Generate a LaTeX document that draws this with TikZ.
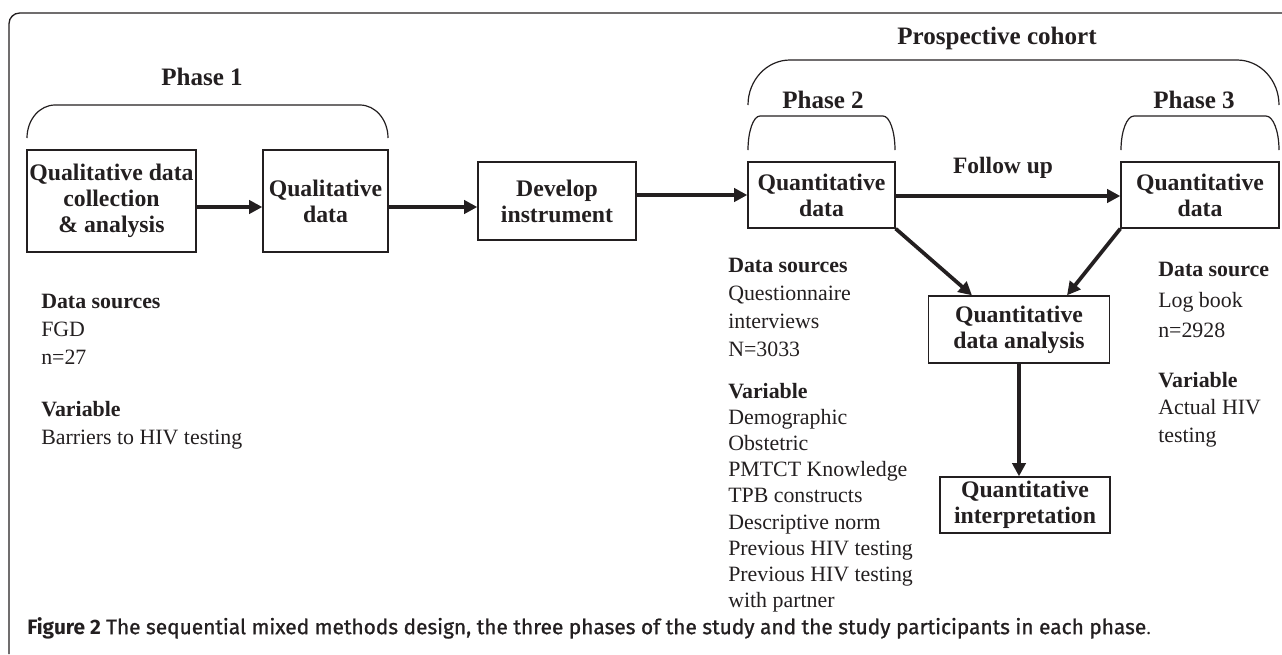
\documentclass[tikz,border=0pt]{standalone}
\usepackage{fontspec}
\setmainfont{Liberation Serif}
\newfontfamily\capfont[FakeBold=1.0]{Fira Sans}
\newfontfamily\capboldfont{Fira Sans}
\usetikzlibrary{arrows.meta, calc}
\definecolor{ink}{HTML}{231F20}

\begin{document}
\begin{tikzpicture}[x=0.75pt, y=-0.75pt, color=ink,
    box/.style={draw, line width=1pt, align=center, inner sep=0pt,
        font=\fontsize{17.8}{19.5}\selectfont\bfseries},
    head/.style={inner sep=0pt, font=\fontsize{18.8}{22}\selectfont\bfseries},
    info/.style={inner sep=0pt, anchor=north west, align=left},
    flow/.style={line width=2.8pt, -{Triangle[length=10pt, width=10pt]}},
    brace/.style={line width=0.9pt}]

    \useasboundingbox (0,0) rectangle (1282,654);
    \draw[line width=1pt, rounded corners=8pt] (9,654) -- (9,13) -- (1282,13);

    \node (colA) [box, minimum width=126.75pt, minimum height=76.5pt] at (111.5,201) {Qualitative data\\collection\\\& analysis};
    \node (qual) [box, minimum width=93.75pt, minimum height=76.5pt] at (325.5,201) {Qualitative\\data};
    \node (instr) [box, minimum width=118.5pt, minimum height=58.5pt] at (557,201) {Develop\\instrument};
    \node (quant2) [box, minimum width=110.25pt, minimum height=49.5pt] at (821.5,195) {Quantitative\\data};
    \node (quant3) [box, minimum width=118.5pt, minimum height=49.5pt] at (1200,195) {Quantitative\\data};
    \node (anal) [box, minimum width=135.75pt, minimum height=50.25pt] at (1019,329.5) {Quantitative\\data analysis};
    \node (interp) [box, minimum width=127.5pt, minimum height=42pt] at (1025,505) {Quantitative\\interpretation};

    \node (p1) [head] at (202,77) {Phase 1};
    \node (coh) [head] at (997,38) {Prospective cohort};
    \node (p2) [head] at (823,100) {Phase 2};
    \node (p3) [head] at (1194,100) {Phase 3};
    \node (fup) [head, font=\fontsize{17.6}{20}\selectfont\bfseries] at (1003,168) {Follow up};

    \draw[brace] (27,138) arc[start angle=180, end angle=270, x radius=28, y radius=33] -- (360,105)
        arc[start angle=270, end angle=360, x radius=28, y radius=33];
    \draw[brace] (748,105) arc[start angle=180, end angle=270, x radius=42, y radius=45] -- (1237,60)
        arc[start angle=270, end angle=360, x radius=42, y radius=45];
    \draw[brace] (748,150) arc[start angle=180, end angle=270, x radius=12, y radius=34] -- (883,116)
        arc[start angle=270, end angle=360, x radius=12, y radius=34];
    \draw[brace] (1121,150) arc[start angle=180, end angle=270, x radius=13, y radius=34] -- (1266,116)
        arc[start angle=270, end angle=360, x radius=13, y radius=34];

    \draw[flow] ($(colA.east)+(0,6)$) -- ($(qual.west)+(0,6)$);
    \draw[flow] ($(qual.east)+(0,6)$) -- ($(instr.west)+(0,6)$);
    \draw[flow] ($(instr.east)+(0,-6)$) -- (quant2.west);
    \draw[flow] ($(quant2.east)+(0,1)$) -- ($(quant3.west)+(0,1)$);
    \draw[flow] (quant2.south east) -- ($(anal.north)+(-47,0)$);
    \draw[flow] (quant3.south west) -- ($(anal.north)+(48,0)$);
    \draw[flow] (anal.south) -- (anal.south |- interp.north);

    \node (srcA) [info, font=\fontsize{16.4}{21}\selectfont] at (41,294) {\textbf{Data sources}\\FGD\\n=27};
    \node (varA) [info, font=\fontsize{16.4}{21}\selectfont] at (41,401) {\textbf{Variable}\\Barriers to HIV testing};
    \node (srcB) [info, font=\fontsize{16.4}{21}\selectfont] at (728,258) {\textbf{Data sources}\\Questionnaire\\interviews\\N=3033};
    \node (varB) [info, font=\fontsize{16.4}{19.6}\selectfont] at (728,383) {\textbf{Variable}\\Demographic\\Obstetric\\PMTCT Knowledge\\TPB constructs\\Descriptive norm\\Previous HIV testing\\Previous HIV testing\\with partner};
    \node (srcC) [info, font=\fontsize{16.4}{22.9}\selectfont] at (1158,262) {\textbf{Data source}\\Log book\\n=2928};
    \node (varC) [info, font=\fontsize{16.4}{20.6}\selectfont] at (1158,372) {\textbf{Variable}\\Actual HIV\\testing};

    \node (cap) [inner sep=0pt, anchor=west, font=\fontsize{15.65}{18}\selectfont] at (27,628) {{\capboldfont\bfseries Figure 2} {\capfont The sequential mixed methods design, the three phases of the study and the study participants in each phase}.};

\end{tikzpicture}
\end{document}
